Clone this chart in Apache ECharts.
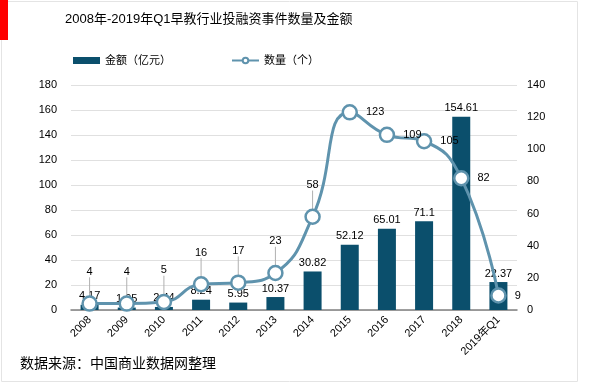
<!DOCTYPE html>
<html><head><meta charset="utf-8">
<script src="https://cdn.jsdelivr.net/npm/echarts@6/dist/echarts.min.js"></script>
<style>html,body{margin:0;padding:0;background:#fff;}#c{width:600px;height:385px;}</style>
</head><body><div id="c"></div>
<script>
var categories = ['2008','2009','2010','2011','2012','2013','2014','2015','2016','2017','2018','2019年Q1'];
var amounts = [4.17,1.95,2.44,8.24,5.95,10.37,30.82,52.12,65.01,71.1,154.61,22.37];
var counts = [4,4,5,16,17,23,58,123,109,105,82,9];
var leftTicks = {min:0,max:180,interval:20};
var rightTicks = {min:0,max:140,interval:20};

var FONT = '"Liberation Sans","Noto Sans CJK SC",sans-serif';
var chart = echarts.init(document.getElementById('c'));
var lineData = counts.map(function(v,i){
  if (i >= 7) return {value:v, label:{position:'right', distance:8}, labelLine:{show:false}};
  return {value:v};
});
chart.setOption({
  animation:false,
  textStyle:{fontFamily:FONT},
  graphic:[
    {type:'rect', shape:{x:1.5,y:1.5,width:576,height:380}, style:{fill:'none',stroke:'#e4e4e4',lineWidth:1}},
    {type:'rect', shape:{x:0,y:0,width:8,height:40}, style:{fill:'#ff0000'}},
    {type:'text', left:20, top:356, style:{text:'数据来源：中国商业数据网整理', font:'14px "Noto Sans CJK SC",sans-serif', fill:'#000'}}
  ],
  title:{text:'2008年-2019年Q1早教行业投融资事件数量及金额', left:60, top:8,
    textStyle:{fontSize:13, fontWeight:'normal', color:'#000', fontFamily:FONT}},
  legend:{left:68, top:50, itemGap:60, itemWidth:27, itemHeight:7,
    textStyle:{fontSize:11,color:'#000',fontFamily:FONT},
    data:[{name:'金额（亿元）', icon:'rect'},{name:'数量（个）'}]},
  grid:{left:71, right:83, top:85, bottom:75},
  xAxis:{type:'category', data:categories,
    axisLine:{lineStyle:{color:'#808080', width:1.5}},
    axisTick:{show:false},
    axisLabel:{rotate:45, fontSize:11, color:'#000', interval:0, margin:8}},
  yAxis:[
    {type:'value', min:leftTicks.min, max:leftTicks.max, interval:leftTicks.interval,
      axisLine:{show:false}, axisTick:{show:false},
      axisLabel:{fontSize:11,color:'#000', margin:14},
      splitLine:{lineStyle:{color:'#e0e0e0', width:1}}},
    {type:'value', min:rightTicks.min, max:rightTicks.max, interval:rightTicks.interval,
      axisLine:{show:false}, axisTick:{show:false},
      axisLabel:{fontSize:11,color:'#000', margin:10},
      splitLine:{show:false}}
  ],
  series:[
    {name:'金额（亿元）', type:'bar', data:amounts, barWidth:18, yAxisIndex:0,
      itemStyle:{color:'#0b4f6c'},
      label:{show:true, position:'top', fontSize:11, color:'#000', distance:3}},
    {name:'数量（个）', type:'line', data:lineData, yAxisIndex:1, smooth:true,
      symbol:'circle', symbolSize:14, showAllSymbol:true,
      lineStyle:{color:'#5f93ad', width:3},
      itemStyle:{color:'#fff', borderColor:'#5f93ad', borderWidth:2.5},
      label:{show:true, position:'top', distance:4, fontSize:11, color:'#000'},
      labelLayout:function(p){ return p.dataIndex < 7 ? {dy:-14} : {}; },
      labelLine:{show:true, lineStyle:{color:'#b0b0b0', width:1}},
      z:5}
  ]
});
</script></body></html>
